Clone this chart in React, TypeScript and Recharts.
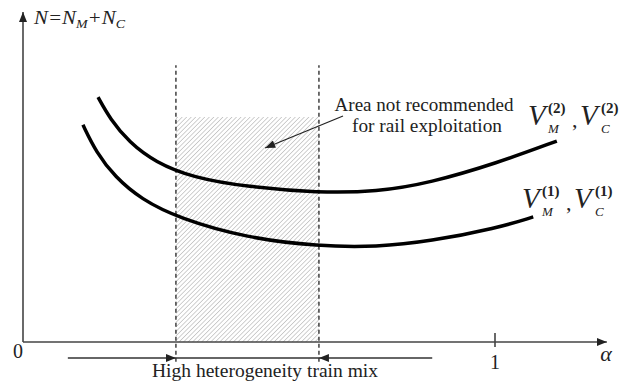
import React from 'react';
import { ComposedChart, Line, XAxis, YAxis, ReferenceLine, ReferenceArea } from 'recharts';

// curve V(2): upper one
const alphaV2 = [0.159, 0.185, 0.225, 0.28, 0.36, 0.475, 0.625, 0.75, 0.862, 1.004, 1.131];
const nV2 = [7.42, 6.75, 6.05, 5.45, 4.98, 4.7, 4.52, 4.55, 4.82, 5.42, 6.09];
// curve V(1): lower one
const alphaV1 = [0.127, 0.155, 0.195, 0.25, 0.33, 0.475, 0.625, 0.75, 0.862, 1.004, 1.081];
const nV1 = [6.58, 5.75, 5.0, 4.33, 3.75, 3.15, 2.9, 2.88, 3.05, 3.45, 3.79];

const xTicks = [0, 1];
const mixStart = 0.324;
const mixEnd = 0.627;
const hatchTop = 6.82;
const dashTop = 8.39;
const alphaArrowEnd = 1.237;
const nArrowEnd = 10;

const upper = alphaV2.map((a, i) => ({ a, n: nV2[i] }));
const lower = alphaV1.map((a, i) => ({ a, n: nV1[i] }));

const FONT = 'Liberation Serif, Times New Roman, serif';
const INK = '#222';

const arrowLine = (marker: string, color = INK, width = 1.4) => (p: any) => (
  <line x1={p.x1} y1={p.y1} x2={p.x2} y2={p.y2} stroke={color} strokeWidth={width} markerEnd={`url(#${marker})`} />
);

const XTick = (props: any) => {
  const { x, y, payload } = props;
  if (payload.value === 0) {
    return <text x={x - 5} y={y + 16} textAnchor="middle" style={{ fontFamily: FONT }} fontSize={20} fill={INK}>0</text>;
  }
  return <text x={x} y={y + 27} textAnchor="middle" style={{ fontFamily: FONT }} fontSize={20} fill={INK}>{payload.value}</text>;
};

// V label: V_M^(k), V_C^(k)
const VLabel = ({ x, y, sup }: { x: number; y: number; sup: string }) => (
  <g style={{ fontFamily: FONT }} fill={INK}>
    <text x={x} y={y} fontSize={29} fontStyle="italic">V</text>
    <text x={x + 20} y={y - 12} fontSize={15} fontWeight="bold">({sup})</text>
    <text x={x + 20} y={y + 8} fontSize={13} fontStyle="italic">M</text>
    <text x={x + 44} y={y + 2} fontSize={22}>,</text>
    <text x={x + 52} y={y} fontSize={29} fontStyle="italic">V</text>
    <text x={x + 73} y={y - 12} fontSize={15} fontWeight="bold">({sup})</text>
    <text x={x + 73} y={y + 8} fontSize={13} fontStyle="italic">C</text>
  </g>
);

export default function App() {
  return (
    <div style={{ position: 'absolute', left: 0, top: 0, width: 637, height: 387, background: '#fff' }}>
      <svg width={0} height={0} style={{ position: 'absolute' }}>
        <defs>
          <marker id="head" viewBox="0 0 10 8" refX={10} refY={4} markerWidth={10} markerHeight={8} markerUnits="userSpaceOnUse" orient="auto">
            <path d="M0,0 L10,4 L0,8 z" fill={INK} />
          </marker>
          <marker id="headSmall" viewBox="0 0 10 8" refX={10} refY={4} markerWidth={11} markerHeight={8} markerUnits="userSpaceOnUse" orient="auto">
            <path d="M0,0 L10,4 L0,8 z" fill={INK} />
          </marker>
          <pattern id="hatch" width={3.2} height={3.2} patternUnits="userSpaceOnUse" patternTransform="rotate(45)">
            <line x1={0} y1={0} x2={0} y2={3.2} stroke="#a2a2a2" strokeWidth={1} />
          </pattern>
        </defs>
      </svg>
      <ComposedChart width={637} height={387} margin={{ top: 12, right: 24, left: 23, bottom: 0 }}>
        <XAxis
          dataKey="a"
          type="number"
          domain={[0, 1.25]}
          ticks={xTicks}
          allowDataOverflow
          axisLine={false}
          tickLine={false}
          tickSize={0}
          tickMargin={0}
          height={45}
          tick={<XTick />}
        />
        <YAxis type="number" domain={[0, 10]} allowDataOverflow hide width={0} />
        <ReferenceArea x1={mixStart} x2={mixEnd} y1={0} y2={hatchTop} fill="url(#hatch)" fillOpacity={1} stroke="none" ifOverflow="visible" />
        <ReferenceLine segment={[{ x: mixStart, y: -0.6 }, { x: mixStart, y: dashTop }]} stroke={INK} strokeWidth={1.3} strokeDasharray="4 3" ifOverflow="visible" />
        <ReferenceLine segment={[{ x: mixEnd, y: -0.6 }, { x: mixEnd, y: dashTop }]} stroke={INK} strokeWidth={1.3} strokeDasharray="4 3" ifOverflow="visible" />
        <ReferenceLine segment={[{ x: 0, y: 0 }, { x: alphaArrowEnd, y: 0 }]} ifOverflow="visible" shape={arrowLine('head', '#444', 1.6)} />
        <ReferenceLine segment={[{ x: 0, y: 0 }, { x: 0, y: nArrowEnd }]} ifOverflow="visible" shape={arrowLine('head', '#444', 1.6)} />
        <ReferenceLine segment={[{ x: 1, y: -0.15 }, { x: 1, y: 0.27 }]} ifOverflow="visible" stroke="#444" strokeWidth={1.6} />
        <ReferenceLine segment={[{ x: 0.095, y: -0.485 }, { x: mixStart, y: -0.485 }]} ifOverflow="visible" shape={arrowLine('head', '#333', 1.6)} />
        <ReferenceLine segment={[{ x: mixStart, y: -0.485 }, { x: mixEnd, y: -0.485 }]} ifOverflow="visible" stroke="#333" strokeWidth={1.6} />
        <ReferenceLine segment={[{ x: 0.867, y: -0.485 }, { x: mixEnd, y: -0.485 }]} ifOverflow="visible" shape={arrowLine('head', '#333', 1.6)} />
        <ReferenceLine segment={[{ x: 0.678, y: 6.85 }, { x: 0.513, y: 5.88 }]} ifOverflow="visible" shape={arrowLine('headSmall', '#222', 1.2)} />
        <Line data={upper} dataKey="n" type="basis" stroke="#000" strokeWidth={3.5} dot={false} activeDot={false} isAnimationActive={false} />
        <Line data={lower} dataKey="n" type="basis" stroke="#000" strokeWidth={3.5} dot={false} activeDot={false} isAnimationActive={false} />
      </ComposedChart>
      <svg width={637} height={387} style={{ position: 'absolute', left: 0, top: 0, pointerEvents: 'none', fontFamily: FONT }}>
        <text x={34} y={24} fontStyle="italic" fontSize={18} fill={INK} textLength={91} lengthAdjust="spacingAndGlyphs">
          N=N<tspan fontSize={12} dy={4}>M</tspan><tspan dy={-4}>+N</tspan><tspan fontSize={12} dy={4}>C</tspan>
        </text>
        <text x={606} y={361} textAnchor="middle" fontStyle="italic" fontSize={22} fill={INK}>α</text>
        <text x={424} y={111} textAnchor="middle" fontSize={19} fill={INK} textLength={179} lengthAdjust="spacingAndGlyphs">Area not recommended</text>
        <text x={427} y={132} textAnchor="middle" fontSize={19} fill={INK} textLength={150} lengthAdjust="spacingAndGlyphs">for rail exploitation</text>
        <text x={265} y={377} textAnchor="middle" fontSize={19} fill={INK} textLength={226} lengthAdjust="spacingAndGlyphs">High heterogeneity  train mix</text>
        <VLabel x={528} y={125} sup="2" />
        <VLabel x={522} y={208} sup="1" />
      </svg>
    </div>
  );
}
